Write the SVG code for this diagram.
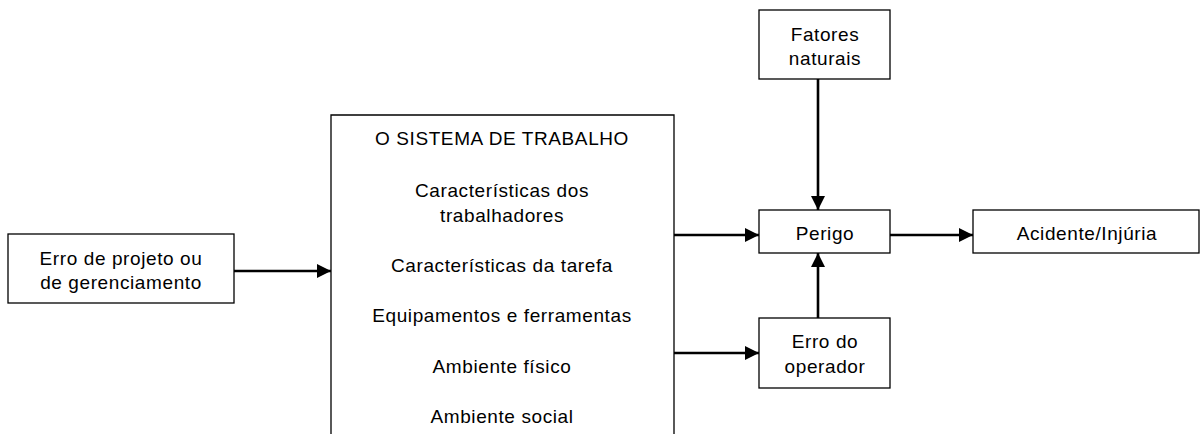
<svg xmlns="http://www.w3.org/2000/svg" width="1202" height="434" viewBox="0 0 1202 434">
<style>
.box{fill:#fff;stroke:#000;stroke-width:1.3}
text{font-family:"Liberation Sans",Arial,sans-serif;font-size:19px;letter-spacing:0.6px;fill:#000;text-anchor:middle}
.c{stroke:#000;stroke-width:2.6;fill:none}
</style>
<defs>
<marker id="ah" viewBox="0 0 14 14" refX="14" refY="7" markerWidth="14" markerHeight="14" markerUnits="userSpaceOnUse" orient="auto">
<path d="M0,0 L14,7 L0,14 Z" fill="#000"/>
</marker>
</defs>
<g id="node-erro-projeto">
<rect class="box" x="8" y="234" width="226" height="69"/>
<text x="121" y="265">Erro de projeto ou</text>
<text x="121" y="289">de gerenciamento</text>
</g>
<g id="node-sistema">
<path class="box" d="M331,440 L331,115 L674,115 L674,440"/>
<text x="502" y="145">O SISTEMA DE TRABALHO</text>
<text x="502" y="197">Características dos</text>
<text x="502" y="222">trabalhadores</text>
<text x="502" y="272">Características da tarefa</text>
<text x="502" y="322">Equipamentos e ferramentas</text>
<text x="502" y="373">Ambiente físico</text>
<text x="502" y="423">Ambiente social</text>
</g>
<g id="node-fatores">
<rect class="box" x="759" y="10" width="131" height="69"/>
<text x="825" y="41">Fatores</text>
<text x="825" y="65">naturais</text>
</g>
<g id="node-perigo">
<rect class="box" x="759" y="210" width="131" height="43"/>
<text x="825" y="240">Perigo</text>
</g>
<g id="node-acidente">
<rect class="box" x="973" y="210" width="226" height="43"/>
<text x="1087" y="240">Acidente/Injúria</text>
</g>
<g id="node-erro-operador">
<rect class="box" x="759" y="318" width="131" height="70"/>
<text x="825" y="348">Erro do</text>
<text x="825" y="373">operador</text>
</g>
<g id="connectors">
<line class="c" x1="234" y1="271" x2="331" y2="271" marker-end="url(#ah)"/>
<line class="c" x1="674" y1="235" x2="759" y2="235" marker-end="url(#ah)"/>
<line class="c" x1="674" y1="353" x2="759" y2="353" marker-end="url(#ah)"/>
<line class="c" x1="818" y1="79" x2="818" y2="210" marker-end="url(#ah)"/>
<line class="c" x1="818" y1="318" x2="818" y2="253" marker-end="url(#ah)"/>
<line class="c" x1="890" y1="235" x2="973" y2="235" marker-end="url(#ah)"/>
</g>
</svg>
